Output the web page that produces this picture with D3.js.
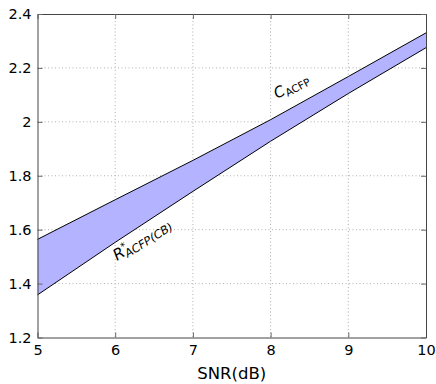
<!DOCTYPE html>
<html>
<head>
<meta charset="utf-8">
<script src="https://cdn.jsdelivr.net/npm/d3@7"></script>
<style>
  body { margin: 0; background: #fff; }
  text { font-family: "DejaVu Sans", sans-serif; fill: #000; }
</style>
</head>
<body>
<svg id="chart" width="436" height="384"></svg>
<script>
// # DATA
// # ------------------------------
var snr     = [5, 6, 7, 8, 9, 10];
var c_acfp  = [1.564, 1.711, 1.857, 2.008, 2.168, 2.33];
var r_acfp  = [1.358, 1.553, 1.742, 1.928, 2.105, 2.275];
var x_ticks = [5, 6, 7, 8, 9, 10];
var y_ticks = [1.2, 1.4, 1.6, 1.8, 2, 2.2, 2.4];

// # LAYOUT
// # ------------------------------
var plot_left = 37.5, plot_right = 426, plot_top = 14, plot_bottom = 337.5;

var svg = d3.select("#chart");

var x = d3.scaleLinear().domain([5, 10]).range([plot_left, plot_right]);
var y = d3.scaleLinear().domain([1.2, 2.4]).range([plot_bottom, plot_top]);

// ## grid
// # ------------------------------
var grid = svg.append("g");
grid.selectAll(".gx")
    .data(x_ticks.slice(1, -1))
    .enter().append("line")
    .attr("x1", function(d) { return x(d) }).attr("x2", function(d) { return x(d) })
    .attr("y1", plot_top).attr("y2", plot_bottom)
    .attr("stroke", "#b0b0b0").attr("stroke-dasharray", "1,2.5");
grid.selectAll(".gy")
    .data(y_ticks.slice(1, -1))
    .enter().append("line")
    .attr("y1", function(d) { return y(d) }).attr("y2", function(d) { return y(d) })
    .attr("x1", plot_left).attr("x2", plot_right)
    .attr("stroke", "#b0b0b0").attr("stroke-dasharray", "1,2.5");

// ## band
// # ------------------------------
var band = snr.map(function(d, i) { return {s: d, lo: r_acfp[i], hi: c_acfp[i]} });

svg.append("path")
   .datum(band)
   .attr("fill", "#b3b3ff")
   .attr("d", d3.area()
       .x(function(d) { return x(d.s) })
       .y0(function(d) { return y(d.lo) })
       .y1(function(d) { return y(d.hi) }));

var line = d3.line().x(function(d) { return x(d[0]) }).y(function(d) { return y(d[1]) });

svg.append("path")
   .datum(d3.zip(snr, c_acfp))
   .attr("fill", "none").attr("stroke", "#000").attr("stroke-width", 1)
   .attr("d", line);
svg.append("path")
   .datum(d3.zip(snr, r_acfp))
   .attr("fill", "none").attr("stroke", "#000").attr("stroke-width", 1)
   .attr("d", line);

// ## axes (box with inward ticks)
// # ------------------------------
var tick_color = "#666";

svg.append("g").attr("transform", "translate(0," + plot_bottom + ")")
   .call(d3.axisBottom(x).tickValues(x_ticks).tickSizeInner(-5).tickSizeOuter(0).tickPadding(7).tickFormat(d3.format("d")));
svg.append("g").attr("transform", "translate(0," + plot_top + ")")
   .call(d3.axisTop(x).tickValues(x_ticks).tickSizeInner(-5).tickSizeOuter(0).tickFormat(""));
svg.append("g").attr("transform", "translate(" + plot_left + ",0)")
   .call(d3.axisLeft(y).tickValues(y_ticks).tickSizeInner(-5).tickSizeOuter(0).tickPadding(6).tickFormat(d3.format("")));
svg.append("g").attr("transform", "translate(" + plot_right + ",0)")
   .call(d3.axisRight(y).tickValues(y_ticks).tickSizeInner(-5).tickSizeOuter(0).tickFormat(""));

svg.selectAll(".domain").attr("stroke", "#444");
svg.selectAll(".tick line").attr("stroke", tick_color);
svg.selectAll(".tick text").style("font-size", "14.5px").attr("fill", "#000");

// ## labels
// # ------------------------------
svg.append("text")
   .attr("x", (plot_left + plot_right) / 2).attr("y", 379)
   .attr("text-anchor", "middle")
   .style("font-size", "16.5px")
   .text("SNR(dB)");

var lab_c = svg.append("text")
   .attr("transform", "translate(277,99) rotate(-28)")
   .style("font-size", "15px");
lab_c.append("tspan").style("font-style", "italic").text("C");
lab_c.append("tspan").attr("dy", 3).style("font-size", "10.5px").text("ACFP");

var lab_r = svg.append("text")
   .attr("transform", "translate(117,261) rotate(-32)")
   .style("font-size", "15.5px");
lab_r.append("tspan").style("font-style", "italic").text("R");
lab_r.append("tspan").attr("dy", -6).style("font-size", "10px").text("*");
lab_r.append("tspan").attr("dx", -5).attr("dy", 9).style("font-size", "11.5px").style("font-style", "italic").text("ACFP(CB)");
</script>
</body>
</html>
